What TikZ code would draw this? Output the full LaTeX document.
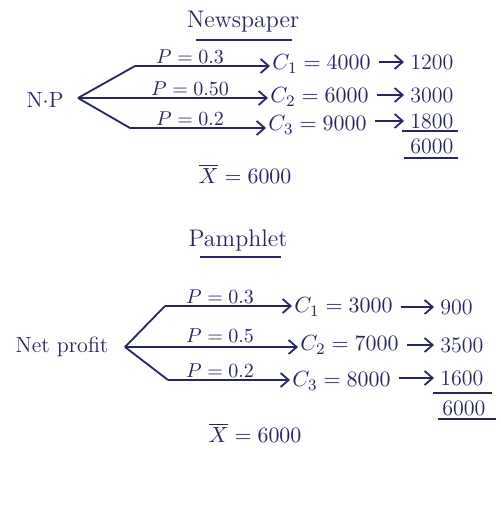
\documentclass[tikz,border=0pt]{standalone}
\usetikzlibrary{arrows.meta}
\definecolor{ink}{RGB}{38,38,98}
\begin{document}
\begin{tikzpicture}[x=0.5pt,y=-0.5pt,
  lbl/.style={font=\fontsize{11}{13}\selectfont, text=ink, inner sep=1pt},
  ttl/.style={font=\fontsize{12}{14}\selectfont, text=ink, inner sep=1pt},
  plbl/.style={font=\fontsize{10}{12}\selectfont, text=ink, inner sep=0pt, anchor=base},
  br/.style={draw=ink, line width=0.9pt},
  arr/.style={draw=ink, line width=0.9pt, -{Straight Barb[length=4pt,width=7pt]}},
  ul/.style={draw=ink, line width=0.8pt}]
\useasboundingbox[fill=white] (0,0) rectangle (500,514);

% ---------- Newspaper ----------
\node[ttl] (t1) at (243,22) {Newspaper};
\draw[ul] (196,40) -- (292,40);
\node[lbl] (np) at (45,100) {N$\cdot$P};
\coordinate (r1) at (78,98);
\coordinate (a1) at (135,66);
\coordinate (a3) at (130,128);
\node[lbl,anchor=west] (c1) at (270,64) {$C_1 = 4000$};
\node[lbl,anchor=west] (c2) at (268,97) {$C_2 = 6000$};
\node[lbl,anchor=west] (c3) at (266,125) {$C_3 = 9000$};
\draw[br] (r1) -- (a1);
\draw[br] (r1) -- (a3);
\draw[arr] (a1) -- (a1 -| c1.west);
\draw[arr] (r1) -- (r1 -| c2.west);
\draw[arr] (a3) -- (a3 -| c3.west);
\node[plbl] (p1) at (190,63) {$P=0.3$};
\node[plbl] (p2) at (190,95) {$P=0.50$};
\node[plbl] (p3) at (190,125) {$P=0.2$};
\node[lbl,anchor=west] (v1) at (408,62) {1200};
\node[lbl,anchor=west] (v2) at (408,95) {3000};
\node[lbl,anchor=west] (v3) at (408,121) {1800};
\node[lbl,anchor=west] (s1) at (408,146) {6000};
\draw[arr] ([xshift=3pt]c1.east |- v1.west) -- ([xshift=-2pt]v1.west);
\draw[arr] ([xshift=3pt]c2.east |- v2.west) -- ([xshift=-2pt]v2.west);
\draw[arr] ([xshift=3pt]c3.east |- v3.west) -- ([xshift=-2pt]v3.west);
\draw[ul] (402,131) -- (458,131);
\draw[ul] (404,158) -- (458,158);
\node[lbl] (m1) at (245,174) {$\overline{X} = 6000$};

% ---------- Pamphlet ----------
\node[ttl] (t2) at (238,240) {Pamphlet};
\draw[ul] (200,257) -- (281,257);
\node[lbl] (nprof) at (62,347) {Net profit};
\coordinate (r2) at (125,347);
\coordinate (b1) at (165,306);
\coordinate (b3) at (168,380);
\node[lbl,anchor=west] (c4) at (292,307) {$C_1 = 3000$};
\node[lbl,anchor=west] (c5) at (298,345) {$C_2 = 7000$};
\node[lbl,anchor=west] (c6) at (290,381) {$C_3 = 8000$};
\draw[br] (r2) -- (b1);
\draw[br] (r2) -- (b3);
\draw[arr] (b1) -- (b1 -| c4.west);
\draw[arr] (r2) -- (r2 -| c5.west);
\draw[arr] (b3) -- (b3 -| c6.west);
\node[plbl] (p4) at (220,303) {$P=0.3$};
\node[plbl] (p5) at (220,342) {$P=0.5$};
\node[plbl] (p6) at (220,377) {$P=0.2$};
\node[lbl,anchor=west] (v4) at (438,307) {900};
\node[lbl,anchor=west] (v5) at (438,345) {3500};
\node[lbl,anchor=west] (v6) at (438,378) {1600};
\node[lbl,anchor=west] (s2) at (440,408) {6000};
\draw[arr] ([xshift=3pt]c4.east |- v4.west) -- ([xshift=-2pt]v4.west);
\draw[arr] ([xshift=3pt]c5.east |- v5.west) -- ([xshift=-2pt]v5.west);
\draw[arr] ([xshift=3pt]c6.east |- v6.west) -- ([xshift=-2pt]v6.west);
\draw[ul] (433,393) -- (492,393);
\draw[ul] (438,419) -- (496,419);
\node[lbl] (m2) at (255,433) {$\overline{X} = 6000$};
\end{tikzpicture}
\end{document}
